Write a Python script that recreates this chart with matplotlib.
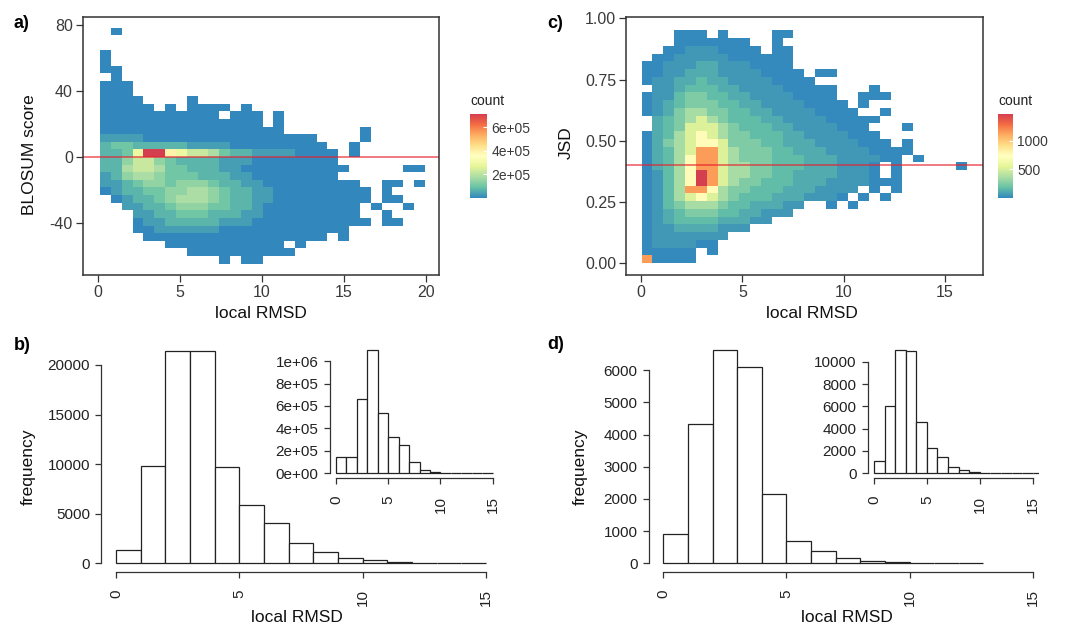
import numpy as np
import matplotlib
matplotlib.use("Agg")
import matplotlib.pyplot as plt
from matplotlib.colors import LinearSegmentedColormap, Normalize

plt.rcParams['font.family'] = ['Liberation Sans', 'DejaVu Sans']

W, H = 1080, 627

# ---------------- a) BLOSUM score vs local RMSD (2D bins) ----------------
a_x_start, a_x_width = 0.15, 0.66
a_y_start, a_y_height = -64.4, 4.6
# count per level code ('.' = empty bin)
a_level_counts = [1.5e3, 3.5e4, 7.0e4, 1.05e5, 1.45e5, 1.8e5, 2.2e5, 2.9e5, 3.9e5, 7.1e5]
a_rows = [  # top row first
    ".0............................",
    "..............................",
    "..............................",
    "0.............................",
    "0.............................",
    "00............................",
    ".0............................",
    "000...........................",
    "000...........................",
    "0000....0.....................",
    "00000.0.0000.0................",
    "00000000000.000.0.............",
    "000000000000000.0.............",
    "00000000000000000.......0.....",
    "11110000000000000000....0.....",
    "233222221111000000000..0......",
    "2237998766532211110000.0......",
    "2246643222211100000000........",
    "22566533222110000000000.....00",
    "1245543332221100000000........",
    "112344344432211000000000..00.0",
    "0122334455432211000000000.0...",
    ".012234555432211000000000.00..",
    "..1122344433221000000000.0..0.",
    "...112233322211000000000..0...",
    "...0112222211100000000000.00..",
    "...00111111000000000000.......",
    "....00000000000000000.0.......",
    "......00000000000.0...........",
    "........0000000000............",
    "...........0.00...............",
]
a_cbar_ticks = [2e5, 4e5, 6e5]
a_cbar_labels = ["2e+05", "4e+05", "6e+05"]

# ---------------- c) JSD vs local RMSD (2D bins) ----------------
c_x_start, c_x_width = 0.03, 0.535
c_y_start, c_y_height = 0.0, 0.0317
c_level_counts = [10, 55, 110, 170, 250, 360, 520, 760, 1150, 1465]
c_rows = [  # top row first
    "...000.0....00................",
    "...0000000..0.................",
    "..001110000.00................",
    ".0011111000000................",
    "00111221110000................",
    "001122211110000.00............",
    "0112232211110000..............",
    ".11233322111100000...0........",
    "011344332211110000..000.......",
    "0123444332211110000.0.........",
    "01245544332211110000..0.......",
    ".234565433322111100000........",
    ".23466654333221111000...0.....",
    "0235676544333221111000........",
    "02456776444332221111000.0.....",
    "0235688654443322211110000.....",
    "023578865444333222111100.0....",
    "0235788655443332221110.0.....0",
    "0135798655443322221110.0......",
    "013579865443332221111000......",
    "01358875443332221111.0.0......",
    "0135676543332221110.0.0.......",
    "013455543322211..0.0..........",
    "01234443322111................",
    "012333322211..................",
    "0112222111....................",
    "01111111......................",
    "0111100.......................",
    "00000.0.......................",
    "80000.........................",
]
c_cbar_ticks = [500, 1000]
c_cbar_labels = ["500", "1000"]

# ---------------- b) / d) histograms (bins of width 1 from 0) ----------------
b_main_counts = [1340, 9850, 21380, 21440, 9680, 5880, 4100, 2050, 1110, 570,
                 300, 130, 60, 30, 15]
b_inset_counts = [142000, 148000, 659000, 1098000, 540000, 326000, 252000, 98000,
                  30000, 12000, 5000, 3000, 1000, 500, 300]
d_main_counts = [900, 4330, 6620, 6100, 2155, 694, 394, 155, 73, 40, 20, 10, 5]
d_inset_counts = [1075, 6060, 11040, 10925, 4600, 2300, 1460, 570, 300, 120,
                  60, 30, 15, 10, 5, 3]

b_main_yticks = [0, 5000, 10000, 15000, 20000]
b_inset_yticks = [0, 2e5, 4e5, 6e5, 8e5, 1e6]
b_inset_ylabels = ["0e+00", "2e+05", "4e+05", "6e+05", "8e+05", "1e+06"]
d_main_yticks = [0, 1000, 2000, 3000, 4000, 5000, 6000]
d_inset_yticks = [0, 2000, 4000, 6000, 8000, 10000]
hist_xticks = [0, 5, 10, 15]

spectral = ['#3288BD', '#66C2A5', '#ABDDA4', '#E6F598', '#FFFFBF',
            '#FEE08B', '#FDAE61', '#F46D43', '#D53E4F']
cmap = LinearSegmentedColormap.from_list('spec', spectral)


def px_rect(left, top, right, bottom):
    return [left / W, 1 - bottom / H, (right - left) / W, (bottom - top) / H]


def ftext(x, y, s, **kw):
    fig.text(x / W, 1 - y / H, s, **kw)


def grid_from_rows(rows, levels):
    ncol = max(len(r) for r in rows)
    z = np.full((len(rows), ncol), np.nan)
    for i, row in enumerate(rows):
        for j, ch in enumerate(row):
            if ch != '.':
                z[i, j] = levels[int(ch)]
    return z[::-1]


def heat_panel(rect, rows, levels, x0, dx, y0, dy, xlim, ylim, xticks, yticks,
               yticklabels, hline, cax_rect, cticks, clabels):
    ax = fig.add_axes(px_rect(*rect))
    z = grid_from_rows(rows, levels)
    xe = x0 + dx * np.arange(z.shape[1] + 1)
    ye = y0 + dy * np.arange(z.shape[0] + 1)
    norm = Normalize(vmin=0, vmax=max(levels))
    mesh = ax.pcolormesh(xe, ye, np.ma.masked_invalid(z), cmap=cmap, norm=norm,
                         edgecolors='none', linewidth=0, antialiased=False)
    ax.axhline(hline, color='#E8202F', alpha=0.7, lw=1.2)
    ax.set_xlim(*xlim)
    ax.set_ylim(*ylim)
    ax.set_xticks(xticks)
    ax.set_yticks(yticks)
    ax.set_yticklabels(yticklabels)
    for s in ax.spines.values():
        s.set_color('#333333')
        s.set_linewidth(1.1)
    ax.tick_params(length=5, width=0.9, color='#333333', pad=2,
                   labelsize=11.5, labelcolor='#3a3a3a')
    cax = fig.add_axes(px_rect(*cax_rect))
    cb = fig.colorbar(mesh, cax=cax)
    cb.outline.set_visible(False)
    cb.set_ticks(cticks)
    cb.set_ticklabels(clabels)
    cax.tick_params(length=3, width=0.8, color='white', direction='in',
                    labelsize=10, labelcolor='#3a3a3a', pad=3)
    return ax


def hist_panel(rect, counts, yticks, yticklabels=None):
    ax = fig.add_axes(px_rect(*rect))
    edges = np.arange(len(counts) + 1)
    ax.bar(edges[:-1], counts, width=1, align='edge', facecolor='white',
           edgecolor='#222222', linewidth=0.9)
    top = max(counts)
    ax.set_xlim(-0.6, 15.6)
    ax.set_ylim(-0.04 * top, 1.04 * top)
    ax.set_xticks(hist_xticks)
    ax.set_yticks(yticks)
    if yticklabels is not None:
        ax.set_yticklabels(yticklabels)
    for side in ('top', 'right'):
        ax.spines[side].set_visible(False)
    ax.spines['left'].set_bounds(yticks[0], yticks[-1])
    ax.spines['bottom'].set_bounds(hist_xticks[0], hist_xticks[-1])
    for side in ('left', 'bottom'):
        ax.spines[side].set_color('#333333')
        ax.spines[side].set_linewidth(0.9)
    ax.tick_params(length=4.5, width=0.9, color='#333333', labelsize=11,
                   labelcolor='#222222')
    ax.tick_params(axis='y', pad=3.5)
    ax.tick_params(axis='x', pad=8, labelrotation=90)
    ax.patch.set_alpha(0)
    return ax


fig = plt.figure(figsize=(W / 100, H / 100), dpi=100)

heat_panel((82.7, 16.7, 438.7, 275), a_rows, a_level_counts,
           a_x_start, a_x_width, a_y_start, a_y_height,
           (-0.915, 20.79), (-71.3, 84.8), [0, 5, 10, 15, 20],
           [-40, 0, 40, 80], ["-40", "0", "40", "80"], 0,
           (470, 114, 487, 198), a_cbar_ticks, a_cbar_labels)

heat_panel((626, 17.3, 982.7, 275), c_rows, c_level_counts,
           c_x_start, c_x_width, c_y_start, c_y_height,
           (-0.74, 16.86), (-0.048, 1.004), [0, 5, 10, 15],
           [0, 0.25, 0.5, 0.75, 1.0], ["0.00", "0.25", "0.50", "0.75", "1.00"], 0.4,
           (998, 114, 1013, 198), c_cbar_ticks, c_cbar_labels)

hist_panel((101.2, 342.2, 500.8, 571.7), b_main_counts, b_main_yticks)
hist_panel((329.7, 345.1, 499.0, 478.3), b_inset_counts, b_inset_yticks,
           b_inset_ylabels)
hist_panel((648.5, 341.8, 1047.5, 571.7), d_main_counts, d_main_yticks)
hist_panel((867.7, 345.2, 1039.0, 478.2), d_inset_counts, d_inset_yticks)

# titles, legends and panel letters
title_kw = dict(fontsize=12.5, color='#111111', ha='center', va='center')
ftext(261, 313, "local RMSD", **title_kw)
ftext(29, 155, "BLOSUM score", rotation=90, **title_kw)
ftext(812, 313, "local RMSD", **title_kw)
ftext(566, 143, "JSD", rotation=90, **title_kw)
ftext(297, 617, "local RMSD", **title_kw)
ftext(28, 467, "frequency", rotation=90, **title_kw)
ftext(847, 617, "local RMSD", **title_kw)
ftext(580, 467, "frequency", rotation=90, **title_kw)

ftext(470, 101, "count", fontsize=10, color='#222222', ha='left', va='center')
ftext(998, 101, "count", fontsize=10, color='#222222', ha='left', va='center')

lab_kw = dict(fontsize=13, fontweight='bold', ha='left', va='center', color='black')
ftext(14, 23, "a)", **lab_kw)
ftext(547, 23, "c)", **lab_kw)
ftext(14, 345, "b)", **lab_kw)
ftext(547, 344, "d)", **lab_kw)

fig.savefig("out.png", dpi=100)
